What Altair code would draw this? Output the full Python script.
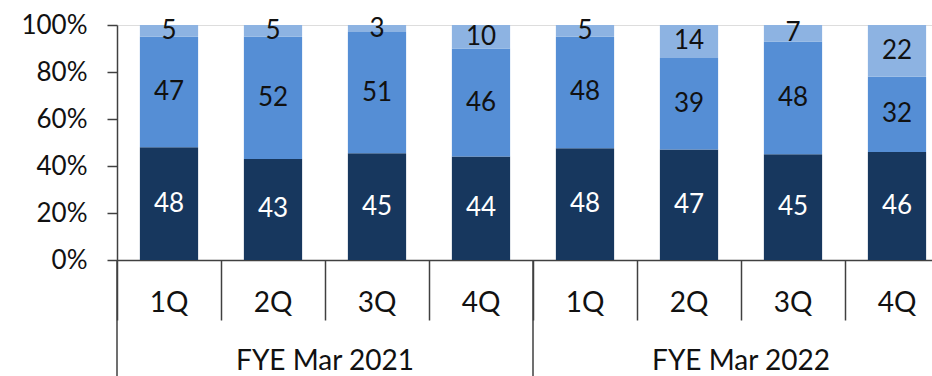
import altair as alt
import pandas as pd

years = ["FYE Mar 2021", "FYE Mar 2022"]
quarters = ["1Q", "2Q", "3Q", "4Q"]
series = ["Bottom", "Middle", "Top"]
bottom_vals = [48, 43, 45, 44, 48, 47, 45, 46]
middle_vals = [47, 52, 51, 46, 48, 39, 48, 32]
top_vals = [5, 5, 3, 10, 5, 14, 7, 22]
colors = ["#17375e", "#558ed5", "#8db3e2"]
label_colors = ["#ffffff", "#111111", "#111111"]

keys = [f"{y}|{q}" for y in years for q in quarters]
rows = []
for i, k in enumerate(keys):
    y, q = k.split("|")
    for j, (s, vals) in enumerate(zip(series, [bottom_vals, middle_vals, top_vals])):
        rows.append({"key": k, "year": y, "quarter": q, "series": s, "order": j, "value": vals[i]})
df = pd.DataFrame(rows)

qdf = pd.DataFrame({"key": keys, "quarter": [k.split("|")[1] for k in keys]})
ydf = pd.DataFrame({"year": years,
                    "start": [f"{y}|1Q" for y in years],
                    "mid": [f"{y}|3Q" for y in years]})

FONT = "Lato"
LINE = "#404040"
H = 235

xscale = alt.Scale(domain=keys, range=[0, 832], paddingInner=0, paddingOuter=0)
yscale = alt.Scale(domain=[0, 1])

bars = alt.Chart(df).mark_bar(width=alt.RelativeBandSize(0.56)).encode(
    x=alt.X("key:N", scale=xscale, sort=keys,
            axis=alt.Axis(title=None, labels=False, tickBand="extent", tickSize=60,
                          tickColor=LINE, tickWidth=1.5, domainColor=LINE, domainWidth=1.5)),
    y=alt.Y("value:Q", stack="normalize", scale=yscale,
            axis=alt.Axis(title=None, values=[0, 0.2, 0.4, 0.6, 0.8, 1.0], format=".0%",
                          grid=False, tickSize=10, tickColor=LINE, tickWidth=1.5,
                          domainColor=LINE, domainWidth=1.5, labelFontSize=26,
                          labelFont=FONT, labelColor="#111111", labelPadding=20)),
    color=alt.Color("series:N", scale=alt.Scale(domain=series, range=colors), legend=None),
    order=alt.Order("order:Q", sort="ascending"),
)

labels = alt.Chart(df).transform_stack(
    stack="value", groupby=["key"], as_=["y0", "y1"],
    sort=[alt.SortField("order", order="ascending")], offset="normalize"
).transform_calculate(
    mid="(datum.y0 + datum.y1) / 2"
).mark_text(font=FONT, fontSize=26, baseline="middle", align="center").encode(
    x=alt.X("key:N", scale=xscale, sort=keys),
    y=alt.Y("mid:Q", scale=yscale),
    text=alt.Text("value:Q"),
    color=alt.Color("series:N", scale=alt.Scale(domain=series, range=label_colors), legend=None),
)

qlabels = alt.Chart(qdf).mark_text(font=FONT, fontSize=28, baseline="alphabetic",
                                   align="center", color="#111111").encode(
    x=alt.X("key:N", scale=xscale, sort=keys),
    y=alt.value(H + 52),
    text="quarter:N",
)

seps = alt.Chart(ydf).mark_rule(color=LINE, strokeWidth=1.5).encode(
    x=alt.X("start:N", scale=xscale, sort=keys, bandPosition=0),
    y=alt.value(H),
    y2=alt.value(H + 120),
)

ylabels = alt.Chart(ydf).mark_text(font=FONT, fontSize=28, baseline="alphabetic",
                                   align="center", color="#111111").encode(
    x=alt.X("mid:N", scale=xscale, sort=keys, bandPosition=0),
    y=alt.value(H + 110),
    text="year:N",
)

chart = alt.layer(bars, labels, qlabels, seps, ylabels).resolve_scale(
    color="independent"
).properties(
    width=815, height=H,
    autosize=alt.AutoSizeParams(type="none"),
    padding={"left": 117, "top": 25, "right": 0, "bottom": 116},
).configure_view(stroke=None).configure(background="white")

chart.save("out.html", embed_options={"renderer": "svg", "actions": False})
